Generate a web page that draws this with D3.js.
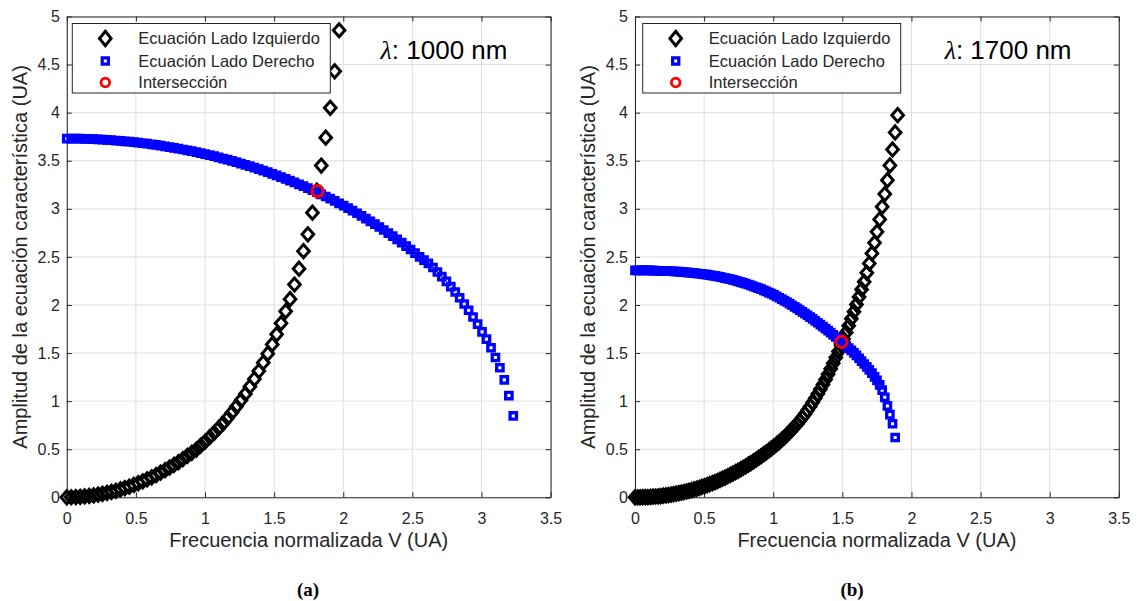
<!DOCTYPE html>
<html lang="es">
<head>
<meta charset="utf-8">
<title>Ecuación característica</title>
<script src="https://d3js.org/d3.v7.min.js"></script>
<style>
  body { margin: 0; background: #fff; }
  svg text { font-family: "Liberation Sans", Arial, sans-serif; fill: #262626; }
</style>
</head>
<body>
<script>
// ---- values ----
var xTicks = [0, 0.5, 1, 1.5, 2, 2.5, 3, 3.5];
var yTicks = [0, 0.5, 1, 1.5, 2, 2.5, 3, 3.5, 4, 4.5, 5];
var seriesNames = ["Ecuación Lado Izquierdo", "Ecuación Lado Derecho", "Intersección"];
var panelNames = ["(a)", "(b)"];
var wavelengths = ["1000 nm", "1700 nm"];

// (a) lambda = 1000 nm
var vA = [0, 0.032, 0.065, 0.097, 0.129, 0.162, 0.194, 0.226, 0.258, 0.291,
  0.323, 0.355, 0.388, 0.420, 0.452, 0.485, 0.517, 0.549, 0.581, 0.614,
  0.646, 0.678, 0.711, 0.743, 0.775, 0.808, 0.840, 0.872, 0.904, 0.937,
  0.969, 1.001, 1.034, 1.066, 1.098, 1.131, 1.163, 1.195, 1.227, 1.260,
  1.292, 1.324, 1.357, 1.389, 1.421, 1.454, 1.486, 1.518, 1.550, 1.583,
  1.615, 1.647, 1.680, 1.712, 1.744, 1.777, 1.809, 1.841, 1.873, 1.906,
  1.938, 1.970, 2.003, 2.035, 2.067, 2.100, 2.132, 2.164, 2.196, 2.229,
  2.261, 2.293, 2.326, 2.358, 2.390, 2.423, 2.455, 2.487, 2.519, 2.552,
  2.584, 2.616, 2.649, 2.681, 2.713, 2.746, 2.778, 2.810, 2.842, 2.875,
  2.907, 2.939, 2.972, 3.004, 3.036, 3.069, 3.101, 3.133, 3.165, 3.198,
  3.230];
var lhsA = [0, 0.0005, 0.002, 0.005, 0.009, 0.014, 0.020, 0.028, 0.036, 0.046,
  0.057, 0.068, 0.082, 0.096, 0.111, 0.128, 0.147, 0.165, 0.187, 0.208,
  0.231, 0.256, 0.282, 0.309, 0.337, 0.367, 0.398, 0.430, 0.463, 0.497,
  0.538, 0.580, 0.625, 0.671, 0.719, 0.770, 0.824, 0.882, 0.944, 1.008,
  1.075, 1.150, 1.230, 1.313, 1.400, 1.493, 1.590, 1.695, 1.810, 1.934,
  2.060, 2.213, 2.377, 2.560, 2.735, 2.960, 3.190, 3.450, 3.740, 4.050,
  4.430, 4.857];
var rhsA = [3.730, 3.730, 3.729, 3.729, 3.728, 3.726, 3.724, 3.722, 3.720, 3.717,
  3.714, 3.710, 3.707, 3.702, 3.698, 3.693, 3.688, 3.682, 3.677, 3.670,
  3.664, 3.657, 3.650, 3.642, 3.634, 3.626, 3.617, 3.608, 3.599, 3.589,
  3.579, 3.569, 3.558, 3.547, 3.535, 3.523, 3.511, 3.498, 3.485, 3.471,
  3.457, 3.443, 3.428, 3.413, 3.397, 3.381, 3.364, 3.347, 3.330, 3.312,
  3.293, 3.275, 3.255, 3.235, 3.215, 3.194, 3.173, 3.151, 3.128, 3.105,
  3.082, 3.057, 3.033, 3.007, 2.981, 2.954, 2.927, 2.899, 2.870, 2.841,
  2.811, 2.780, 2.748, 2.716, 2.683, 2.648, 2.613, 2.577, 2.540, 2.501,
  2.467, 2.432, 2.390, 2.343, 2.295, 2.245, 2.190, 2.135, 2.075, 2.010,
  1.945, 1.875, 1.800, 1.720, 1.645, 1.555, 1.454, 1.347, 1.221, 1.058,
  0.846];
var crossA = [1.814, 3.184];

// (b) lambda = 1700 nm
var vB = [0, 0.019, 0.037, 0.056, 0.075, 0.093, 0.112, 0.130, 0.149, 0.168,
  0.186, 0.205, 0.224, 0.242, 0.261, 0.279, 0.298, 0.317, 0.335, 0.354,
  0.373, 0.391, 0.410, 0.428, 0.447, 0.466, 0.484, 0.503, 0.522, 0.540,
  0.559, 0.578, 0.596, 0.615, 0.633, 0.652, 0.671, 0.689, 0.708, 0.727,
  0.745, 0.764, 0.782, 0.801, 0.820, 0.838, 0.857, 0.876, 0.894, 0.913,
  0.932, 0.950, 0.969, 0.987, 1.006, 1.025, 1.043, 1.062, 1.081, 1.099,
  1.118, 1.136, 1.155, 1.174, 1.192, 1.211, 1.230, 1.248, 1.267, 1.285,
  1.304, 1.323, 1.341, 1.360, 1.379, 1.397, 1.416, 1.434, 1.453, 1.472,
  1.490, 1.509, 1.528, 1.546, 1.565, 1.584, 1.602, 1.621, 1.639, 1.658,
  1.677, 1.695, 1.714, 1.733, 1.751, 1.770, 1.788, 1.807, 1.826, 1.844,
  1.863, 1.882, 1.900];
var lhsB = [0, 0.0001, 0.0004, 0.0010, 0.0019, 0.0029, 0.0044, 0.0061, 0.0083, 0.0106,
  0.0134, 0.0165, 0.0200, 0.0238, 0.0280, 0.0325, 0.0374, 0.0427, 0.0483, 0.0543,
  0.0608, 0.0676, 0.0748, 0.0824, 0.0905, 0.0989, 0.1077, 0.1170, 0.1266, 0.1367,
  0.1472, 0.1580, 0.1694, 0.1811, 0.1933, 0.2058, 0.2189, 0.2323, 0.2463, 0.2606,
  0.2754, 0.2906, 0.3063, 0.3225, 0.3390, 0.3561, 0.3735, 0.3915, 0.4100, 0.4287,
  0.4480, 0.4677, 0.4880, 0.5086, 0.530, 0.552, 0.575, 0.599, 0.624, 0.650,
  0.677, 0.705, 0.734, 0.764, 0.796, 0.830, 0.866, 0.904, 0.944, 0.986,
  1.030, 1.076, 1.124, 1.174, 1.226, 1.280, 1.336, 1.394, 1.454, 1.516,
  1.580, 1.646, 1.714, 1.784, 1.856, 1.930, 2.006, 2.084, 2.162, 2.241,
  2.335, 2.432, 2.536, 2.647, 2.761, 2.890, 3.021, 3.153, 3.298, 3.451,
  3.617, 3.794, 3.974];
var rhsB = [2.360, 2.360, 2.360, 2.360, 2.359, 2.359, 2.359, 2.358, 2.357, 2.356,
  2.355, 2.355, 2.353, 2.352, 2.351, 2.349, 2.348, 2.346, 2.344, 2.342,
  2.339, 2.337, 2.334, 2.331, 2.328, 2.325, 2.322, 2.319, 2.315, 2.311,
  2.306, 2.302, 2.298, 2.292, 2.286, 2.280, 2.274, 2.268, 2.262, 2.254,
  2.246, 2.238, 2.230, 2.223, 2.213, 2.203, 2.194, 2.184, 2.175, 2.164,
  2.152, 2.141, 2.129, 2.118, 2.105, 2.090, 2.075, 2.060, 2.045, 2.031,
  2.014, 1.997, 1.980, 1.964, 1.947, 1.929, 1.910, 1.892, 1.873, 1.855,
  1.835, 1.815, 1.795, 1.774, 1.754, 1.733, 1.712, 1.690, 1.667, 1.645,
  1.623, 1.600, 1.576, 1.551, 1.527, 1.502, 1.476, 1.446, 1.416, 1.386,
  1.356, 1.326, 1.291, 1.253, 1.215, 1.170, 1.115, 1.040, 0.950, 0.860,
  0.765, 0.622];
var crossB = [1.494, 1.617];

// ---- layout ----
var width = 1139, height = 601;
var plotTop = 16.5, plotW = 483.8, plotH = 480.8;
var axisColor = "#262626";

var panels = [
  { left: 66.8, legendX: 5.5, v: vA, lhs: lhsA, rhs: rhsA, cross: crossA, name: panelNames[0], lambda: wavelengths[0], lambdaX: 2.27, captionX: 308 },
  { left: 635, legendX: 7.7, v: vB, lhs: lhsB, rhs: rhsB, cross: crossB, name: panelNames[1], lambda: wavelengths[1], lambdaX: 2.24, captionX: 852 }
];

var svg = d3.select("body").append("svg")
    .attr("width", width)
    .attr("height", height);

function diamond(w, h) { return "M0," + (-h) + "L" + w + ",0L0," + h + "L" + (-w) + ",0Z"; }
function square(s) { return "M" + (-s/2) + "," + (-s/2) + "h" + s + "v" + s + "h" + (-s) + "Z"; }

panels.forEach(function(p) {
  var x = d3.scaleLinear().domain([0, 3.5]).range([0, plotW]);
  var y = d3.scaleLinear().domain([0, 5]).range([plotH, 0]);

  var g = svg.append("g").attr("transform", "translate(" + p.left + "," + plotTop + ")");

  // grid
  var grid = g.append("g").attr("stroke", "#dfdfdf").attr("stroke-width", 1);
  grid.selectAll(".gx").data(xTicks).enter().append("line")
      .attr("x1", function(d) { return x(d); }).attr("x2", function(d) { return x(d); })
      .attr("y1", 0).attr("y2", plotH);
  grid.selectAll(".gy").data(yTicks).enter().append("line")
      .attr("y1", function(d) { return y(d); }).attr("y2", function(d) { return y(d); })
      .attr("x1", 0).attr("x2", plotW);

  // axes (box with ticks pointing inwards)
  var fmt = d3.format("~g");
  var axes = [
    g.append("g").attr("transform", "translate(0," + plotH + ")")
      .call(d3.axisBottom(x).tickValues(xTicks).tickSizeInner(-5).tickSizeOuter(0).tickPadding(15).tickFormat(fmt)),
    g.append("g")
      .call(d3.axisLeft(y).tickValues(yTicks).tickSizeInner(-5).tickSizeOuter(0).tickPadding(7).tickFormat(fmt)),
    g.append("g")
      .call(d3.axisTop(x).tickValues(xTicks).tickSizeInner(-5).tickSizeOuter(0).tickFormat("")),
    g.append("g").attr("transform", "translate(" + plotW + ",0)")
      .call(d3.axisRight(y).tickValues(yTicks).tickSizeInner(-5).tickSizeOuter(0).tickFormat(""))
  ];
  axes.forEach(function(a) {
    a.attr("font-size", 16).attr("font-family", null);
    a.select(".domain").attr("stroke", axisColor);
    a.selectAll(".tick line").attr("stroke", axisColor);
    a.selectAll(".tick text").attr("fill", axisColor);
  });

  // left side of the equation: black diamonds
  g.append("g").selectAll("path")
      .data(p.lhs.map(function(d, i) { return [p.v[i], d]; }))
      .enter().append("path")
      .attr("d", diamond(5.8, 6.6))
      .attr("transform", function(d) { return "translate(" + x(d[0]) + "," + y(d[1]) + ")"; })
      .attr("fill", "none").attr("stroke", "#000").attr("stroke-width", 3);

  // right side of the equation: blue squares
  g.append("g").selectAll("path")
      .data(p.rhs.map(function(d, i) { return [p.v[i], d]; }))
      .enter().append("path")
      .attr("d", square(6.4))
      .attr("transform", function(d) { return "translate(" + x(d[0]) + "," + y(d[1]) + ")"; })
      .attr("fill", "none").attr("stroke", "#0000ff").attr("stroke-width", 3.3);

  // intersection
  g.append("circle")
      .attr("cx", x(p.cross[0])).attr("cy", y(p.cross[1])).attr("r", 5.6)
      .attr("fill", "none").attr("stroke", "#ff0000").attr("stroke-width", 3);

  // axis titles
  g.append("text")
      .attr("x", plotW / 2).attr("y", 547 - plotTop)
      .attr("text-anchor", "middle").attr("font-size", 20)
      .text("Frecuencia normalizada V (UA)");
  g.append("text")
      .attr("transform", "translate(-40," + (plotH / 2) + ") rotate(-90)")
      .attr("text-anchor", "middle").attr("font-size", 20)
      .text("Amplitud de la ecuación característica (UA)");

  // wavelength note
  var note = g.append("text")
      .attr("x", x(p.lambdaX)).attr("y", 59 - plotTop)
      .attr("font-size", 26).style("fill", "#000");
  note.append("tspan").style("font-family", "'Liberation Serif', serif").style("font-style", "italic").text("λ");
  note.append("tspan").text(": " + p.lambda);

  // legend
  var lg = g.append("g").attr("transform", "translate(" + p.legendX + ",7)");
  lg.append("rect").attr("width", 258).attr("height", 69.5)
      .attr("fill", "#fff").attr("stroke", axisColor).attr("stroke-width", 1);
  var rows = [15, 37.5, 59];
  lg.append("path").attr("d", diamond(5.8, 7.2))
      .attr("transform", "translate(33," + rows[0] + ")")
      .attr("fill", "none").attr("stroke", "#000").attr("stroke-width", 3);
  lg.append("path").attr("d", square(6.2))
      .attr("transform", "translate(33," + rows[1] + ")")
      .attr("fill", "none").attr("stroke", "#0000ff").attr("stroke-width", 3.2);
  lg.append("circle").attr("cx", 33).attr("cy", rows[2]).attr("r", 4.3)
      .attr("fill", "none").attr("stroke", "#ff0000").attr("stroke-width", 2.8);
  lg.selectAll(".lt").data(seriesNames).enter().append("text")
      .attr("x", 66).attr("y", function(d, i) { return rows[i]; })
      .attr("dy", "0.36em").attr("font-size", 16.5)
      .text(function(d) { return d; });

  // panel caption
  svg.append("text")
      .attr("x", p.captionX).attr("y", 596)
      .attr("text-anchor", "middle")
      .attr("font-size", 19).attr("font-weight", "bold")
      .style("font-family", "'Liberation Serif', 'Times New Roman', serif").style("fill", "#000")
      .text(p.name);
});
</script>
</body>
</html>
